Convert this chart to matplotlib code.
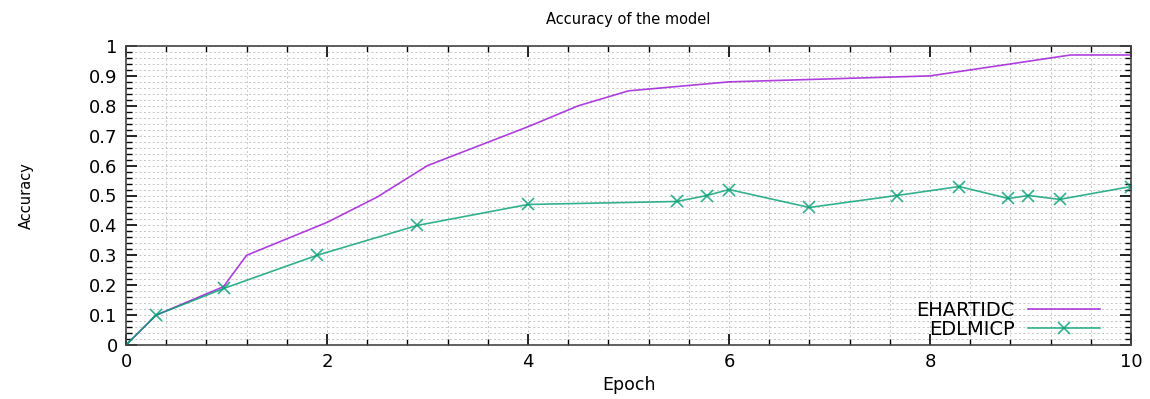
import matplotlib
matplotlib.use("Agg")
import matplotlib.pyplot as plt
from matplotlib.ticker import MultipleLocator, FixedLocator

# Data
ehartidc_x = [0, 0.3, 0.97, 1.2, 2.0, 2.5, 3.0, 4.0, 4.5, 5.0, 6.0, 8.0, 9.4, 10.0]
ehartidc_y = [0, 0.10, 0.195, 0.30, 0.41, 0.495, 0.60, 0.73, 0.80, 0.85, 0.88, 0.90, 0.97, 0.97]

edlmicp_x = [0, 0.3, 0.98, 1.9, 2.9, 4.0, 5.48, 5.78, 6.0, 6.8, 7.67, 8.29, 8.78, 8.98, 9.29, 10.0]
edlmicp_y = [0, 0.10, 0.19, 0.30, 0.40, 0.47, 0.48, 0.50, 0.52, 0.46, 0.50, 0.53, 0.49, 0.50, 0.487, 0.53]

x_ticks = [0, 2, 4, 6, 8, 10]
x_tick_labels = ["0", "2", "4", "6", "8", "10"]
y_ticks = [0, 0.1, 0.2, 0.3, 0.4, 0.5, 0.6, 0.7, 0.8, 0.9, 1.0]
y_tick_labels = ["0", "0.1", "0.2", "0.3", "0.4", "0.5", "0.6", "0.7", "0.8", "0.9", "1"]

fig = plt.figure(figsize=(11.5, 3.99), dpi=100)
ax = fig.add_axes([126/1150, 1-345/399, (1131-126)/1150, (345-46)/399])

ax.plot(ehartidc_x, ehartidc_y, color="#9400d3", lw=1.2, alpha=0.75, label="EHARTIDC")
ax.plot(edlmicp_x, edlmicp_y, color="#009e73", lw=1.2, alpha=0.8, marker="x",
        markersize=8, markeredgewidth=1.2, label="EDLMICP")

ax.set_xlim(0, 10)
ax.set_ylim(0, 1)
ax.xaxis.set_major_locator(FixedLocator(x_ticks))
ax.set_xticklabels(x_tick_labels)
ax.yaxis.set_major_locator(FixedLocator(y_ticks))
ax.set_yticklabels(y_tick_labels)
ax.xaxis.set_minor_locator(MultipleLocator(0.4))
ax.yaxis.set_minor_locator(MultipleLocator(0.02))

ax.grid(which="both", color="#c4c4c4", linestyle=(0, (2, 2.5)), lw=0.7)
ax.set_axisbelow(True)

ax.tick_params(which="both", direction="in", top=True, right=True, labelsize=13, colors="black")
ax.tick_params(which="major", length=8, width=1.2, pad=6)
ax.tick_params(which="minor", length=4, width=1.0)
for s in ax.spines.values():
    s.set_linewidth(1.2)
    s.set_color("#444444")

ax.set_title("Accuracy of the model", fontsize=10.5, pad=16)
ax.set_xlabel("Epoch", fontsize=12.5, labelpad=3)
ax.set_ylabel("Accuracy", fontsize=10.5, labelpad=40)

leg = ax.legend(loc="lower right", frameon=False, markerfirst=False, fontsize=14,
                handlelength=3.7, borderaxespad=0.0, borderpad=0.0, labelspacing=0.0,
                handletextpad=0.7, bbox_to_anchor=(0.969, 0.021))
for t in leg.get_texts():
    t.set_ha("right")

fig.savefig("out.png", dpi=100)
